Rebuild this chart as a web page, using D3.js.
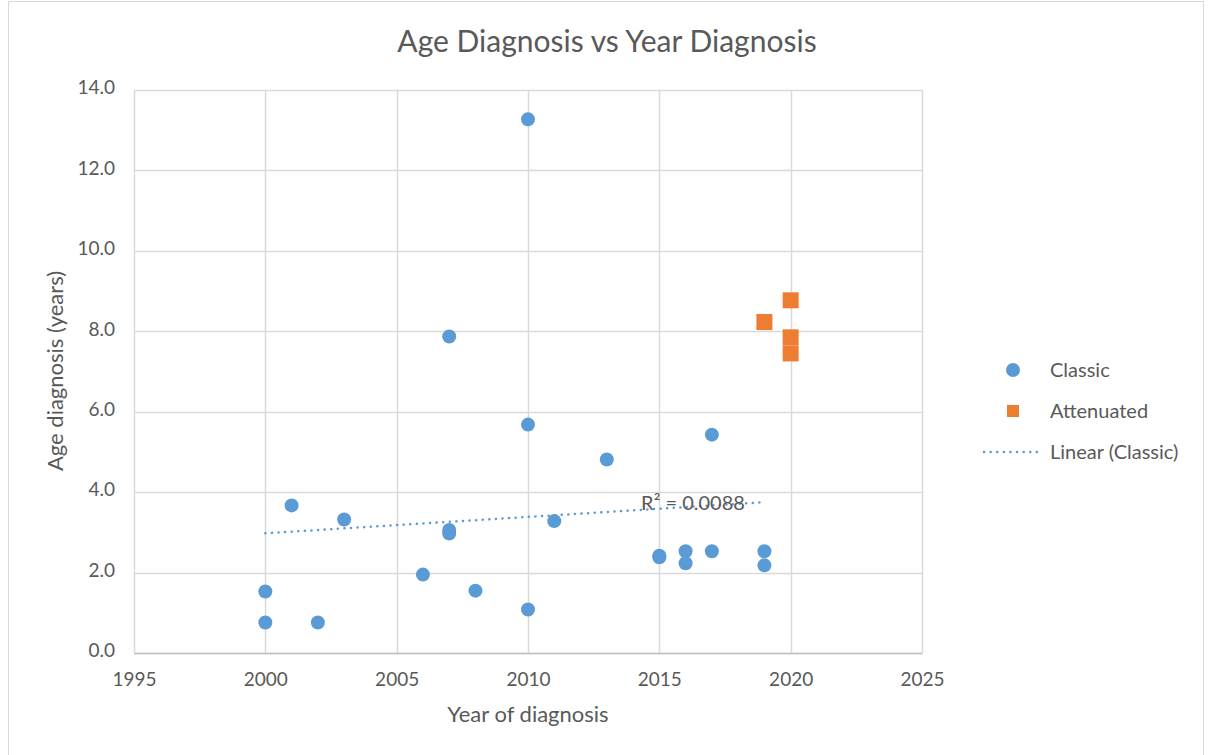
<!DOCTYPE html>
<html>
<head>
<meta charset="utf-8">
<script src="https://cdn.jsdelivr.net/npm/d3@7"></script>
<style>
  html, body { margin: 0; padding: 0; background: #fff; }
  svg { display: block; }
</style>
</head>
<body>
<div id="viz"></div>
<script>
// Classic series: year of diagnosis and age at diagnosis
const classicYears = [2000, 2000, 2001, 2002, 2003, 2006, 2007, 2007, 2007, 2008, 2010, 2010, 2010, 2011, 2013, 2015, 2015, 2016, 2016, 2017, 2017, 2019, 2019];
const classicAges  = [1.53, 0.76, 3.67, 0.76, 3.32, 1.95, 7.87, 3.06, 2.97, 1.55, 13.27, 5.68, 1.08, 3.28, 4.81, 2.42, 2.38, 2.53, 2.23, 2.53, 5.43, 2.53, 2.18];

// Attenuated series
const attenuatedYears = [2019, 2020, 2020, 2020];
const attenuatedAges  = [8.23, 8.77, 7.85, 7.45];

const xTicks = [1995, 2000, 2005, 2010, 2015, 2020, 2025];
const yTicks = [0, 2, 4, 6, 8, 10, 12, 14];
const legendLabels = ["Classic", "Attenuated", "Linear (Classic)"];
const r2Label = "R² = 0.0088";

(function () {
    const width = 1213;
    const height = 755;
    const margin = ({ top: 90, right: 291, bottom: 102, left: 134 });

    const labelsFill = "#595959";
    const gridColor = "#d9d9d9";
    const colors = { classic: "#5b9bd5", attenuated: "#ed7d31" };
    const font = "Lato, 'Open Sans', sans-serif";

    const svg = d3.select("#viz")
        .append("svg")
        .attr("width", width)
        .attr("height", height)
        .style("font-family", font);

    // chart frame
    svg.append("rect")
        .attr("x", 8.5).attr("y", 1.5)
        .attr("width", 1195).attr("height", 770)
        .attr("fill", "#fff")
        .attr("stroke", gridColor);

    const x = d3.scaleLinear()
        .domain([1995, 2025])
        .range([margin.left, width - margin.right]);

    const y = d3.scaleLinear()
        .domain([0, 14])
        .range([height - margin.bottom, margin.top]);

    // gridlines
    svg.append("g")
        .selectAll("line")
        .data(xTicks)
        .join("line")
        .attr("x1", d => Math.round(x(d)) + 0.5)
        .attr("x2", d => Math.round(x(d)) + 0.5)
        .attr("y1", y(14))
        .attr("y2", y(0))
        .attr("stroke", gridColor)
        .attr("stroke-width", 1.5);

    svg.append("g")
        .selectAll("line")
        .data(yTicks)
        .join("line")
        .attr("x1", x(1995))
        .attr("x2", x(2025))
        .attr("y1", d => Math.round(y(d)) + 0.5)
        .attr("y2", d => Math.round(y(d)) + 0.5)
        .attr("stroke", gridColor)
        .attr("stroke-width", 1.5);

    // axes
    const xAxisG = svg.append("g")
        .attr("transform", `translate(0,${y(0)})`)
        .call(d3.axisBottom(x).tickValues(xTicks).tickFormat(d3.format("d")).tickSize(0).tickPadding(20));

    const yAxisG = svg.append("g")
        .attr("transform", `translate(${x(1995)},0)`)
        .call(d3.axisLeft(y).tickValues(yTicks).tickFormat(d3.format(".1f")).tickSize(0).tickPadding(19));

    svg.selectAll(".domain").attr("stroke", "none");
    xAxisG.select(".domain").attr("stroke", "#bfbfbf").attr("stroke-width", 1.5);
    svg.selectAll(".tick text")
        .attr("fill", labelsFill)
        .style("font-family", font)
        .style("font-size", "19px");
    yAxisG.selectAll(".tick text").attr("dy", "0.2em");

    // trendline for classic series (least squares)
    const mx = d3.mean(classicYears);
    const my = d3.mean(classicAges);
    const sxy = d3.sum(classicYears, (v, i) => (v - mx) * (classicAges[i] - my));
    const sxx = d3.sum(classicYears, v => (v - mx) * (v - mx));
    const slope = sxy / sxx;
    const intercept = my - slope * mx;
    const trendX = d3.extent(classicYears);

    svg.append("line")
        .attr("x1", x(trendX[0]))
        .attr("x2", x(trendX[1]))
        .attr("y1", y(intercept + slope * trendX[0]))
        .attr("y2", y(intercept + slope * trendX[1]))
        .attr("stroke", colors.classic)
        .attr("stroke-width", 2.5)
        .attr("stroke-linecap", "round")
        .attr("stroke-dasharray", "0.1 6.5");

    // classic points
    svg.append("g")
        .selectAll("circle")
        .data(classicYears.map((v, i) => [v, classicAges[i]]))
        .join("circle")
        .attr("cx", d => x(d[0]))
        .attr("cy", d => y(d[1]))
        .attr("r", 7)
        .attr("fill", colors.classic);

    // attenuated points
    const sq = 16;
    svg.append("g")
        .selectAll("rect")
        .data(attenuatedYears.map((v, i) => [v, attenuatedAges[i]]))
        .join("rect")
        .attr("x", d => x(d[0]) - sq / 2)
        .attr("y", d => y(d[1]) - sq / 2)
        .attr("width", sq)
        .attr("height", sq)
        .attr("fill", colors.attenuated);

    // R squared label
    svg.append("text")
        .attr("x", 693)
        .attr("y", 510)
        .attr("text-anchor", "middle")
        .attr("fill", labelsFill)
        .style("font-size", "20px")
        .text(r2Label);

    // title
    svg.append("text")
        .attr("x", 607)
        .attr("y", 52)
        .attr("text-anchor", "middle")
        .attr("fill", labelsFill)
        .style("font-size", "30px")
        .text("Age Diagnosis vs Year Diagnosis");

    // axis titles
    svg.append("text")
        .attr("x", 528)
        .attr("y", 722)
        .attr("text-anchor", "middle")
        .attr("fill", labelsFill)
        .style("font-size", "22px")
        .text("Year of diagnosis");

    svg.append("text")
        .attr("transform", "translate(63,371) rotate(-90)")
        .attr("text-anchor", "middle")
        .attr("fill", labelsFill)
        .style("font-size", "22px")
        .text("Age diagnosis (years)");

    // legend
    const legend = svg.append("g");
    const ly = [370, 411, 452];
    legend.append("circle")
        .attr("cx", 1013).attr("cy", ly[0]).attr("r", 7)
        .attr("fill", colors.classic);
    legend.append("rect")
        .attr("x", 1013 - 6).attr("y", ly[1] - 6)
        .attr("width", 12).attr("height", 12)
        .attr("fill", colors.attenuated);
    legend.append("line")
        .attr("x1", 984).attr("x2", 1042)
        .attr("y1", ly[2]).attr("y2", ly[2])
        .attr("stroke", colors.classic)
        .attr("stroke-width", 2.5)
        .attr("stroke-linecap", "round")
        .attr("stroke-dasharray", "0.1 6.5");
    legend.selectAll("text")
        .data(legendLabels)
        .join("text")
        .attr("x", 1050)
        .attr("y", (d, i) => ly[i])
        .attr("dy", "0.35em")
        .attr("fill", labelsFill)
        .style("font-size", "20px")
        .text(d => d);
})();
</script>
</body>
</html>
